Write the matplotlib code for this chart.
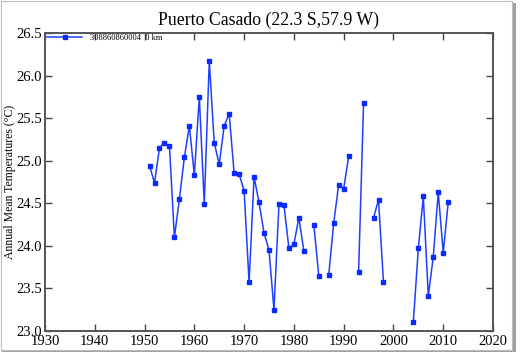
import numpy as np
import matplotlib
matplotlib.use('Agg')
import matplotlib.pyplot as plt
from matplotlib.patches import Rectangle

plt.rcParams['font.family'] = ['Liberation Serif', 'DejaVu Serif']

# 年平均気温（欠測は NaN）
years = list(range(1951, 2012))
temps = [24.94, 24.74, 25.15, 25.21, 25.17, 24.10, 24.55, 25.04, 25.41, 24.83,
         25.75, 24.49, 26.17, 25.21, 24.96, 25.41, 25.55, 24.85, 24.84, 24.65,
         23.57, 24.81, 24.51, 24.15, 23.95, 23.25, 24.49, 24.48, 23.97, 24.02,
         24.33, 23.94, np.nan, 24.25, 23.65, np.nan, 23.66, 24.27, 24.72, 24.67,
         25.05, np.nan, 23.69, 25.68, np.nan, 24.33, 24.54, 23.57, np.nan, np.nan,
         np.nan, np.nan, np.nan, 23.11, 23.97, 24.58, 23.41, 23.87, 24.63, 23.92,
         24.51]

x_ticks = [1930, 1940, 1950, 1960, 1970, 1980, 1990, 2000, 2010, 2020]
y_ticks = [23.0, 23.5, 24.0, 24.5, 25.0, 25.5, 26.0, 26.5]

W, H = 520, 358
fig = plt.figure(figsize=(W / 100, H / 100), dpi=100)
ax = fig.add_axes([45 / W, 1 - 331 / H, 448 / W, 298 / H])

ax.plot(years, temps, color='#1f3fff', linewidth=1.1, marker='s', markersize=3.5,
        markerfacecolor='#0a2aff', markeredgecolor='#0a2aff',
        label='308860860004  0 km')

ax.set_xlim(1930, 2020)
ax.set_ylim(23.0, 26.5)
ax.set_xticks(x_ticks)
ax.set_yticks(y_ticks)
ax.set_yticklabels([f'{v:.1f}' for v in y_ticks])
ax.tick_params(direction='in', top=True, right=True, length=5, width=1,
               color='#444444', labelsize=10.5, pad=2)
ax.tick_params(axis='x', pad=3)

for sp in ax.spines.values():
    sp.set_color('#555555')
    sp.set_linewidth(1.4)

ax.set_title('Puerto Casado (22.3 S,57.9 W)', fontsize=12.8, pad=6)
ax.set_ylabel('Annual Mean Temperatures (\u00b0C)', fontsize=8.5, labelpad=0)
ax.yaxis.set_label_coords(-0.064, 0.5)

ax.legend(loc='upper left', frameon=False, fontsize=6, handlelength=4.2,
          borderaxespad=0.0, borderpad=0.1, handletextpad=0.9,
          bbox_to_anchor=(0.003, 1.0))

# 外枠と影
fig.patches.append(Rectangle((2 / W, 6 / H), 514 / W, 349 / H, transform=fig.transFigure,
                             fill=True, facecolor='#555555', edgecolor='none',
                             zorder=-2, alpha=0.55))
fig.patches.append(Rectangle((1 / W, 8 / H), 511 / W, 349 / H, transform=fig.transFigure,
                             fill=True, facecolor='white', edgecolor='#bbbbbb',
                             linewidth=0.8, zorder=-1))

fig.savefig('out.png', dpi=100)
